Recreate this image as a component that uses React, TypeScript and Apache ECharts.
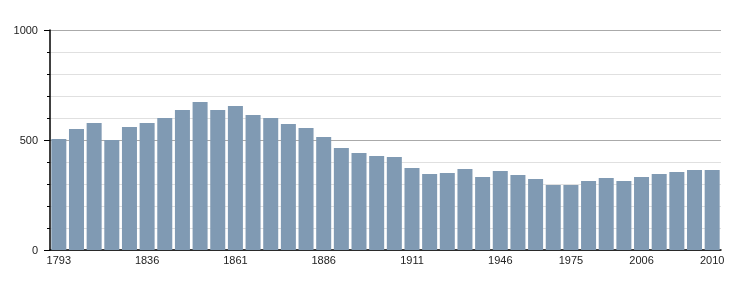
import React, { useEffect, useRef } from "react";
import * as echarts from "echarts";

const years: string[] = [
  "1793", "1800", "1806", "1821", "1831", "1836", "1841", "1846", "1851", "1856",
  "1861", "1866", "1872", "1876", "1881", "1886", "1891", "1896", "1901", "1906",
  "1911", "1921", "1926", "1931", "1936", "1946", "1954", "1962", "1968", "1975",
  "1982", "1990", "1999", "2006", "2007", "2008", "2009", "2010",
];

const population: number[] = [
  505, 550, 577, 500, 559, 577, 600, 636, 673, 636,
  655, 614, 600, 573, 555, 514, 464, 441, 427, 423,
  373, 345, 350, 368, 332, 359, 341, 323, 295, 295,
  314, 327, 314, 332, 345, 355, 364, 364,
];

const shownLabels: string[] = ["1793", "1836", "1861", "1886", "1911", "1946", "1975", "2006", "2010"];

const yTicks: number[] = [0, 500, 1000];

export default function App() {
  const ref = useRef<HTMLDivElement>(null);

  useEffect(() => {
    if (!ref.current) return;
    const chart = echarts.init(ref.current, undefined, { renderer: "svg" });
    const font = "'Liberation Sans', Arial, sans-serif";
    chart.setOption({
      animation: false,
      grid: { left: 50, right: 29, top: 30, bottom: 50, containLabel: false },
      xAxis: {
        type: "category",
        data: years,
        boundaryGap: true,
        axisLine: { show: true, lineStyle: { color: "#000", width: 1.5 } },
        axisTick: { show: false },
        axisLabel: {
          interval: (i: number, v: string) => shownLabels.includes(v),
          color: "#222",
          fontFamily: font,
          fontSize: 11,
          margin: 4,
        },
        splitLine: { show: false },
      },
      yAxis: {
        type: "value",
        min: yTicks[0],
        max: yTicks[yTicks.length - 1],
        interval: 500,
        axisLine: { show: true, lineStyle: { color: "#000", width: 1.5 } },
        axisTick: { show: true, inside: false, length: 6, lineStyle: { color: "#000" } },
        minorTick: { show: true, splitNumber: 5, length: 3, lineStyle: { color: "#000" } },
        axisLabel: {
          color: "#222",
          fontFamily: font,
          fontSize: 11,
          margin: 12,
          formatter: (v: number) => String(v),
        },
        splitLine: { show: true, lineStyle: { color: "#aaaaaa", width: 1 } },
        minorSplitLine: { show: true, lineStyle: { color: "#e0e0e0", width: 1 } },
      },
      series: [
        {
          type: "bar",
          data: population,
          barCategoryGap: "15%",
          itemStyle: { color: "#809ab3" },
        },
      ],
    });
    return () => chart.dispose();
  }, []);

  return (
    <div
      ref={ref}
      style={{ position: "fixed", left: 0, top: 0, width: 750, height: 300 }}
    />
  );
}
